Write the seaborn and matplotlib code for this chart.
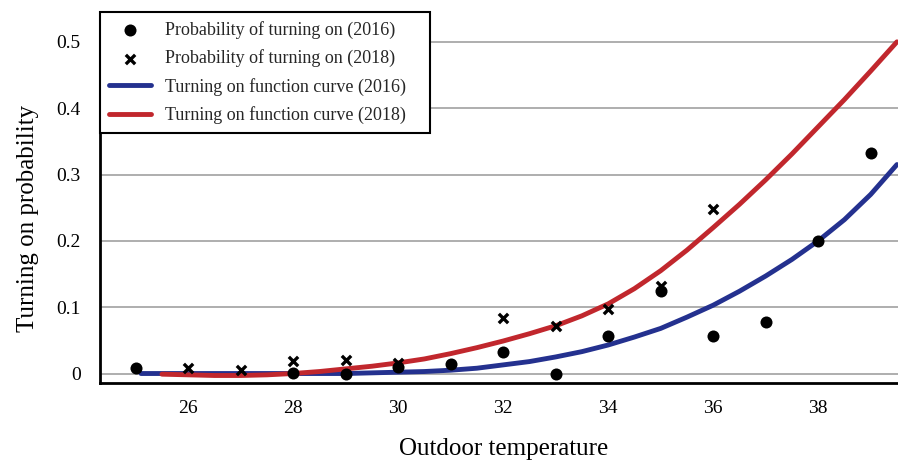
import matplotlib
matplotlib.use("Agg")
import matplotlib.pyplot as plt
import seaborn as sns
import pandas as pd

# ---- data ----
temp_2016 = [25, 28, 29, 30, 31, 32, 33, 34, 35, 36, 37, 38, 39]
prob_2016 = [0.008, 0.001, 0.0, 0.010, 0.015, 0.032, 0.0, 0.057, 0.124, 0.056, 0.077, 0.200, 0.332]

temp_2018 = [26, 27, 28, 29, 30, 32, 33, 34, 35, 36]
prob_2018 = [0.008, 0.006, 0.019, 0.020, 0.016, 0.083, 0.071, 0.098, 0.132, 0.248]

curve_t_2016 = [25.1, 26, 27, 28, 29, 29.5, 30, 30.5, 31, 31.5, 32, 32.5, 33, 33.5, 34,
                34.5, 35, 35.5, 36, 36.5, 37, 37.5, 38, 38.5, 39, 39.5]
curve_p_2016 = [0.0, 0.0, 0.0, 0.0, 0.0, 0.001, 0.002, 0.003, 0.005, 0.008, 0.013, 0.018,
                0.025, 0.033, 0.043, 0.055, 0.068, 0.085, 0.103, 0.124, 0.147, 0.172,
                0.200, 0.232, 0.270, 0.315]

curve_t_2018 = [25.5, 26, 26.5, 27, 27.5, 28, 28.5, 29, 29.5, 30, 30.5, 31, 31.5, 32, 32.5,
                33, 33.5, 34, 34.5, 35, 35.5, 36, 36.5, 37, 37.5, 38, 38.5, 39, 39.5]
curve_p_2018 = [-0.001, -0.002, -0.003, -0.003, -0.002, 0.0, 0.003, 0.007, 0.011, 0.016,
                0.022, 0.030, 0.039, 0.049, 0.060, 0.072, 0.087, 0.105, 0.128, 0.155,
                0.186, 0.220, 0.255, 0.292, 0.331, 0.372, 0.413, 0.456, 0.500]

x_ticks = [26, 28, 30, 32, 34, 36, 38]
y_ticks = [0, 0.1, 0.2, 0.3, 0.4, 0.5]
y_tick_labels = ["0", "0.1", "0.2", "0.3", "0.4", "0.5"]

labels = ["Probability of turning on (2016)", "Probability of turning on (2018)",
          "Turning on function curve (2016)", "Turning on function curve (2018)"]

BLUE = "#24318f"
RED = "#c1272d"

sns.set_theme(style="white")
plt.rcParams["font.family"] = ["Liberation Serif", "DejaVu Serif"]

fig = plt.figure(figsize=(8.98, 4.63), dpi=100)
ax = fig.add_axes([100 / 898, 1 - 383 / 463, 798 / 898, (383 - 12) / 463])

df16 = pd.DataFrame({"t": temp_2016, "p": prob_2016})
df18 = pd.DataFrame({"t": temp_2018, "p": prob_2018})
c16 = pd.DataFrame({"t": curve_t_2016, "p": curve_p_2016})
c18 = pd.DataFrame({"t": curve_t_2018, "p": curve_p_2018})

sns.lineplot(data=c16, x="t", y="p", ax=ax, color=BLUE, linewidth=3.5, label=labels[2],
             zorder=3, sort=True)
sns.lineplot(data=c18, x="t", y="p", ax=ax, color=RED, linewidth=3.5, label=labels[3],
             zorder=3, sort=True)
sns.scatterplot(data=df16, x="t", y="p", ax=ax, color="black", marker="o", s=75,
                edgecolor="black", linewidth=0, label=labels[0], zorder=4)
sns.scatterplot(data=df18, x="t", y="p", ax=ax, color="black", marker="x", s=45,
                linewidth=2.4, label=labels[1], zorder=4)

ax.set_xlim(24.32, 39.52)
ax.set_ylim(-0.0143, 0.545)
ax.set_xticks(x_ticks)
ax.set_xticklabels([str(v) for v in x_ticks])
ax.set_yticks(y_ticks)
ax.set_yticklabels(y_tick_labels)

ax.grid(axis="y", color="#a8a8a8", linewidth=1.3)
ax.grid(axis="x", visible=False)
ax.set_axisbelow(True)

for side in ["top", "right"]:
    ax.spines[side].set_visible(False)
for side in ["left", "bottom"]:
    ax.spines[side].set_color("black")
    ax.spines[side].set_linewidth(2)

ax.tick_params(axis="both", direction="in", length=8, width=1.8, color="black",
               labelsize=14, labelcolor="black", pad=12)
ax.tick_params(axis="y", pad=14)

ax.set_xlabel("Outdoor temperature", fontsize=18, color="black")
ax.set_ylabel("Turning on probability", fontsize=18, color="black")
ax.xaxis.set_label_coords(0.506, -0.147)
ax.yaxis.set_label_coords(-0.077, 0.443)

handles, labs = ax.get_legend_handles_labels()
order = [labs.index(l) for l in labels]
leg = ax.legend([handles[i] for i in order], [labs[i] for i in order],
                loc="upper left", bbox_to_anchor=(0.0, 1.0, 330 / 798, 0.0),
                mode="expand", borderaxespad=0,
                fontsize=13, frameon=True, fancybox=False, edgecolor="black",
                framealpha=1, handlelength=2.35, handletextpad=0.75,
                labelspacing=0.58, borderpad=0.5)
leg.get_frame().set_linewidth(1.5)

fig.savefig("out.png", dpi=100)
